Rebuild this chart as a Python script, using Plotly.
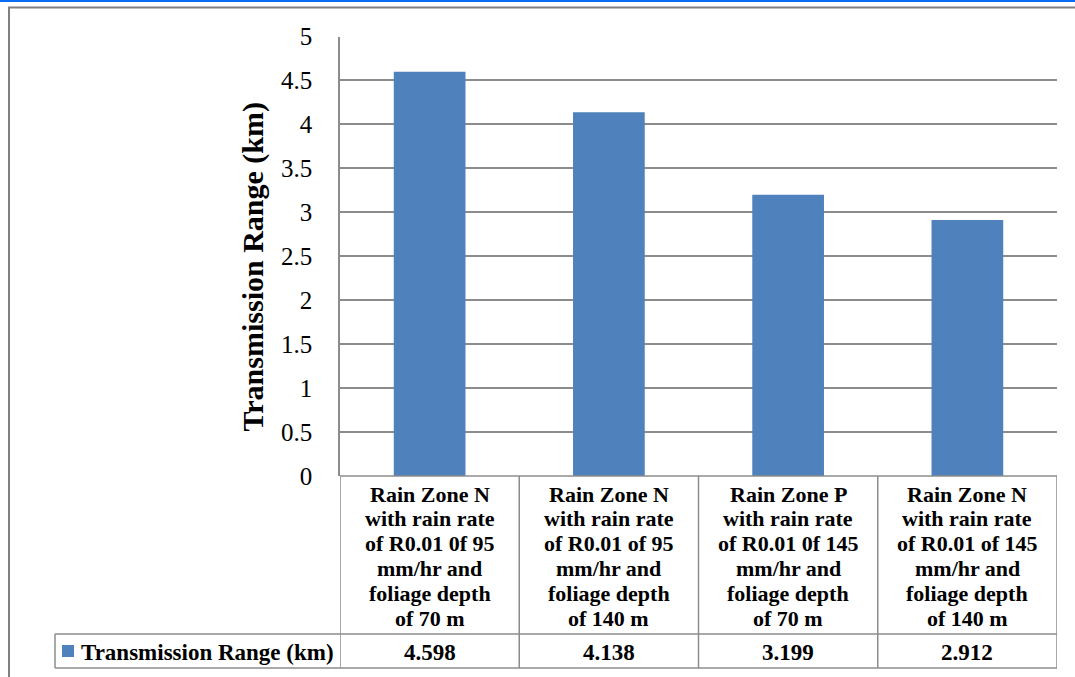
import plotly.graph_objects as go

W, H = 1075, 677

series_name = "Transmission Range (km)"
categories = [
    "Rain Zone N<br>with rain rate<br>of R0.01 0f 95<br>mm/hr and<br>foliage depth<br>of 70 m",
    "Rain Zone N<br>with rain rate<br>of R0.01 of 95<br>mm/hr and<br>foliage depth<br>of 140 m",
    "Rain Zone P<br>with rain rate<br>of R0.01 0f 145<br>mm/hr and<br>foliage depth<br>of 70 m",
    "Rain Zone N<br>with rain rate<br>of R0.01 of 145<br>mm/hr and<br>foliage depth<br>of 140 m",
]
values = [4.598, 4.138, 3.199, 2.912]
value_labels = ["4.598", "4.138", "3.199", "2.912"]
y_ticks = [0, 0.5, 1, 1.5, 2, 2.5, 3, 3.5, 4, 4.5, 5]
y_tick_labels = ["0", "0.5", "1", "1.5", "2", "2.5", "3", "3.5", "4", "4.5", "5"]

BAR = "#4F81BD"
GRID = "#8c8c8c"
FONT = "Liberation Serif"

def px(x):
    return x / W

def py(y):
    return 1 - y / H

fig = go.Figure()
fig.add_trace(go.Bar(x=list(range(len(values))), y=values, marker=dict(color=BAR, line=dict(width=0)),
                     name=series_name, showlegend=False, hoverinfo="y"))

x_left, x_right = 340, 1057
y_top, y_zero = 36.5, 476
y_row2, y_bot = 634, 668
leg_left = 55

fig.update_layout(
    width=W, height=H,
    margin=dict(l=0, r=0, t=0, b=0, pad=0, autoexpand=False),
    paper_bgcolor="white", plot_bgcolor="white",
    bargap=0.6,
    font=dict(family=FONT, color="black"),
    xaxis=dict(domain=[px(x_left), px(x_right)], range=[-0.5, len(values) - 0.5], automargin=False,
               showticklabels=False, showgrid=False, zeroline=False, showline=False, fixedrange=True),
    yaxis=dict(domain=[py(y_zero), py(y_top)], range=[0, 5], tickvals=y_ticks, ticktext=y_tick_labels,
               automargin=False, fixedrange=True,
               showgrid=True, gridcolor=GRID, gridwidth=1.5, zeroline=False,
               showline=True, linecolor=GRID, linewidth=1.5,
               ticks="", ticklabelstandoff=21, tickfont=dict(family=FONT, size=25, color="black")),
)

shapes = []
line = dict(color=GRID, width=1.5)
# table horizontal lines
shapes.append(dict(type="line", xref="paper", yref="paper", x0=px(x_left), x1=px(x_right), y0=py(y_zero), y1=py(y_zero), line=line))
shapes.append(dict(type="line", xref="paper", yref="paper", x0=px(leg_left), x1=px(x_right), y0=py(y_row2), y1=py(y_row2), line=line))
shapes.append(dict(type="line", xref="paper", yref="paper", x0=px(leg_left), x1=px(x_right), y0=py(y_bot), y1=py(y_bot), line=line))
# table vertical lines
for i in range(len(values) + 1):
    shapes.append(dict(type="line", xref="x", yref="paper", x0=i - 0.5, x1=i - 0.5,
                       y0=py(y_zero), y1=py(y_bot), line=line))
shapes.append(dict(type="line", xref="paper", yref="paper", x0=px(leg_left), x1=px(leg_left),
                   y0=py(y_row2), y1=py(y_bot), line=line))
# legend key
shapes.append(dict(type="rect", xref="paper", yref="paper", x0=px(62), x1=px(74), y0=py(657), y1=py(645),
                   fillcolor=BAR, line=dict(width=0)))
# outer chart border
shapes.append(dict(type="rect", xref="paper", yref="paper", x0=px(9), x1=px(W + 10), y0=py(7.5), y1=py(H + 10),
                   fillcolor="rgba(0,0,0,0)", line=dict(color="#808080", width=2)))
# top blue line
shapes.append(dict(type="rect", xref="paper", yref="paper", x0=0, x1=1, y0=py(0), y1=py(2),
                   fillcolor="#0a6cf5", line=dict(width=0)))
fig.update_layout(shapes=shapes)

ann = []
line_gap = 24.8
first_line = 494
for i, (c, v) in enumerate(zip(categories, value_labels)):
    for k, part in enumerate(c.split("<br>")):
        ann.append(dict(x=i, y=py(first_line + k * line_gap), xref="x", yref="paper", text=f"<b>{part}</b>",
                        showarrow=False, font=dict(family=FONT, size=22, color="black"),
                        xanchor="center", yanchor="middle"))
    ann.append(dict(x=i, y=py(652), xref="x", yref="paper", text=f"<b>{v}</b>", showarrow=False,
                    font=dict(family=FONT, size=23, color="black"), xanchor="center", yanchor="middle"))
ann.append(dict(x=px(79), y=py(652), xref="paper", yref="paper", text=f"<b>{series_name}</b>",
                showarrow=False, font=dict(family=FONT, size=23, color="black"), xanchor="left", yanchor="middle"))
ann.append(dict(x=px(252), y=py(267.5), xref="paper", yref="paper", text=f"<b>{series_name}</b>", textangle=-90,
                showarrow=False, font=dict(family=FONT, size=30, color="black"), xanchor="center", yanchor="middle"))
fig.update_layout(annotations=ann)

fig.write_html("out.html", config={"displayModeBar": False},
               post_script="document.body.style.margin='0';document.body.style.overflow='hidden';")
